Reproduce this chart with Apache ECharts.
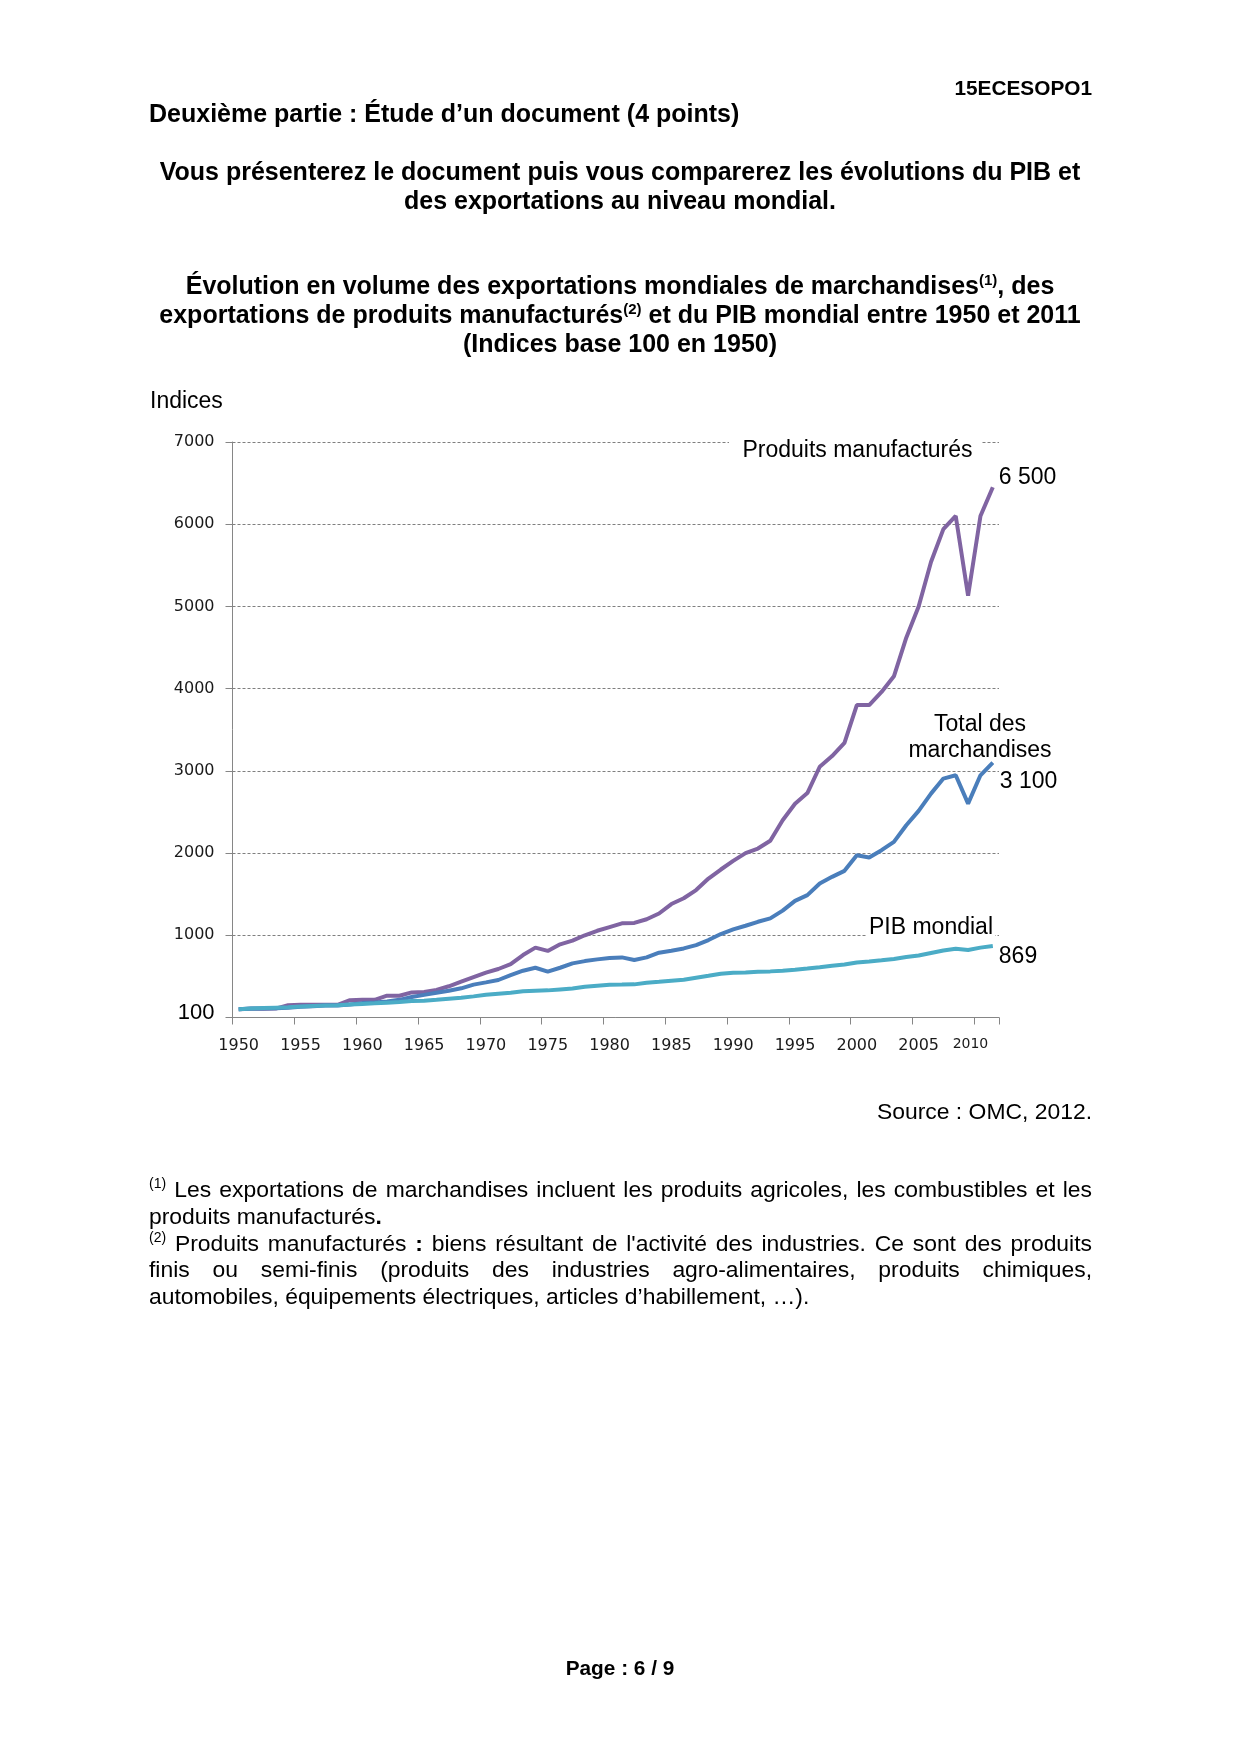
<!DOCTYPE html>
<html lang="fr">
<head>
<meta charset="utf-8">
<title>Évolution en volume des exportations mondiales</title>
<script src="https://cdn.jsdelivr.net/npm/echarts@6/dist/echarts.min.js"></script>
<style>
html,body{margin:0;padding:0;background:#fff;}
#page{position:relative;width:1240px;height:1754px;overflow:hidden;font-family:"Liberation Sans",Arial,sans-serif;color:#000;}
#chart{position:absolute;left:0;top:0;width:1240px;height:1754px;}
.t{position:absolute;}
.b{font-weight:bold;}
sup{font-size:15px;line-height:0;vertical-align:9px;}
.fn sup{font-size:14px;vertical-align:9px;}
.fn div{height:26.8px;line-height:26.8px;}
.j{text-align:justify;text-align-last:justify;}
</style>
</head>
<body>
<div id="page">
  <div id="chart"></div>
  <div class="t b" style="right:148px;top:76px;font-size:20.8px;line-height:24px;">15ECESOPO1</div>
  <div class="t b" style="left:149px;top:99px;font-size:25px;line-height:29px;">Deuxième partie : Étude d’un document (4 points)</div>
  <div class="t b" style="left:0;width:1240px;text-align:center;top:157px;font-size:25px;line-height:29px;">Vous présenterez le document puis vous comparerez les évolutions du PIB et<br>des exportations au niveau mondial.</div>
  <div class="t b" style="left:0;width:1240px;text-align:center;top:271px;font-size:25px;line-height:29px;">Évolution en volume des exportations mondiales de marchandises<sup>(1)</sup>, des<br>exportations de produits manufacturés<sup>(2)</sup> et du PIB mondial entre 1950 et 2011<br>(Indices base 100 en 1950)</div>
  <div class="t" style="right:148px;top:1098px;font-size:22.9px;line-height:26.8px;">Source : OMC, 2012.</div>
  <div class="t fn" style="left:149px;top:1176px;width:943px;font-size:22.9px;">
    <div class="j"><sup>(1)</sup> Les exportations de marchandises incluent les produits agricoles, les combustibles et les</div>
    <div>produits manufacturés<b>.</b></div>
    <div class="j"><sup>(2)</sup> Produits manufacturés <b>:</b> biens résultant de l'activité des industries. Ce sont des produits</div>
    <div class="j">finis ou semi-finis (produits des industries agro-alimentaires, produits chimiques,</div>
    <div>automobiles, équipements électriques, articles d’habillement, …).</div>
  </div>
  <div class="t b" style="left:0;width:1240px;text-align:center;top:1656px;font-size:20.8px;line-height:24px;">Page : 6 / 9</div>
</div>
<script>
const years = ['1950','1951','1952','1953','1954','1955','1956','1957','1958','1959',
  '1960','1961','1962','1963','1964','1965','1966','1967','1968','1969',
  '1970','1971','1972','1973','1974','1975','1976','1977','1978','1979',
  '1980','1981','1982','1983','1984','1985','1986','1987','1988','1989',
  '1990','1991','1992','1993','1994','1995','1996','1997','1998','1999',
  '2000','2001','2002','2003','2004','2005','2006','2007','2008','2009',
  '2010','2011'];

const produitsManufactures = [100,105,105,108,150,155,155,155,155,210,
  215,215,265,265,305,310,335,380,435,490,
  545,590,650,760,850,810,890,935,1000,1055,
  1100,1145,1150,1195,1265,1380,1450,1550,1690,1800,
  1905,2000,2055,2150,2400,2600,2730,3050,3180,3340,
  3800,3800,3960,4150,4620,5000,5540,5940,6100,5130,
  6100,6450];

const totalMarchandises = [100,108,108,112,120,130,138,145,145,158,
  175,182,195,215,250,275,300,325,355,400,
  427,456,516,569,605,557,605,658,686,707,
  725,731,699,731,788,812,840,881,942,1015,
  1071,1116,1164,1205,1300,1418,1488,1630,1711,1784,
  1974,1946,2035,2136,2339,2513,2723,2906,2946,2602,
  2946,3100];

const pibMondial = [100,110,115,120,125,135,140,145,148,158,
  165,172,180,188,200,205,215,229,241,257,
  277,290,302,318,326,330,342,354,375,387,
  398,400,403,423,435,448,460,484,508,533,
  545,548,557,561,570,580,595,612,630,645,
  670,680,695,712,735,755,785,815,835,820,
  850,869];

const seriesNames = ['Produits manufacturés', 'Total des marchandises', 'PIB mondial'];
const endValues = ['6 500', '3 100', '869'];
const baseLabel = '100';

const chart = echarts.init(document.getElementById('chart'), null, {renderer: 'canvas'});
const labelFont = 'Liberation Sans';
const axisFont = 'DejaVu Sans';

function txt(x, y, text, align) {
  return {type: 'text', x: x, y: y, z: 100,
    style: {text: text, fill: '#000', font: '23px "Liberation Sans"',
      textAlign: align || 'center', textVerticalAlign: 'middle', align: align || 'center', verticalAlign: 'middle'}};
}

const option = {
  animation: false,
  backgroundColor: '#fff',
  grid: {left: 232.5, top: 442, width: 766.5, height: 575.5, containLabel: false},
  xAxis: {
    type: 'category', data: years, boundaryGap: true,
    axisLine: {lineStyle: {color: '#868686', width: 1}},
    axisTick: {show: true, length: 7, lineStyle: {color: '#868686'},
      interval: function (index) { return index % 5 === 0 && index < years.length; }},
    axisLabel: {interval: 4, margin: 20, color: '#1a1a1a', fontFamily: axisFont, fontSize: 16,
      formatter: function (v) { return v === '2010' ? '{s|2010}' : v; },
      rich: {s: {fontSize: 14, fontFamily: axisFont, color: '#1a1a1a', padding: [0, 20, 0, 0]}}},
    splitLine: {show: false}
  },
  yAxis: {
    type: 'value', min: 0, max: 7000, interval: 1000,
    axisLine: {show: true, lineStyle: {color: '#868686'}},
    axisTick: {show: true, length: 7, lineStyle: {color: '#868686'}},
    axisLabel: {margin: 18, color: '#1a1a1a', fontFamily: axisFont, fontSize: 16,
      formatter: function (v) { return v === 0 ? '{b|' + baseLabel + '}' : String(v); },
      rich: {b: {fontFamily: labelFont, fontSize: 22, color: '#000', padding: [0, 0, 10, 0]}}},
    splitLine: {lineStyle: {color: '#7f7f7f', type: [3, 2], width: 1}}
  },
  series: [
    {name: seriesNames[0], type: 'line', data: produitsManufactures, symbol: 'none',
      lineStyle: {color: '#8064A2', width: 4}, itemStyle: {color: '#8064A2'},
      endLabel: {show: true, formatter: endValues[0], distance: 6, offset: [0, -10],
        fontFamily: labelFont, fontSize: 23, color: '#000'}},
    {name: seriesNames[1], type: 'line', data: totalMarchandises, symbol: 'none',
      lineStyle: {color: '#4A7EBB', width: 4}, itemStyle: {color: '#4A7EBB'},
      endLabel: {show: true, formatter: endValues[1], distance: 7, offset: [0, 19],
        fontFamily: labelFont, fontSize: 23, color: '#000'}},
    {name: seriesNames[2], type: 'line', data: pibMondial, symbol: 'none',
      lineStyle: {color: '#4BACC6', width: 4}, itemStyle: {color: '#4BACC6'},
      endLabel: {show: true, formatter: endValues[2], distance: 6, offset: [0, 11],
        fontFamily: labelFont, fontSize: 23, color: '#000'}}
  ],
  graphic: [
    txt(150, 401.5, 'Indices', 'left'),
    {type: 'rect', z: 99, shape: {x: 729, y: 436, width: 252, height: 27}, style: {fill: '#fff'}},
    txt(857.5, 451, seriesNames[0]),
    txt(980, 725, 'Total des'),
    txt(980, 751, 'marchandises'),
    {type: 'rect', z: 99, shape: {x: 866, y: 915, width: 129, height: 28}, style: {fill: '#fff'}},
    txt(931, 928, seriesNames[2])
  ]
};
chart.setOption(option);
</script>
</body>
</html>
